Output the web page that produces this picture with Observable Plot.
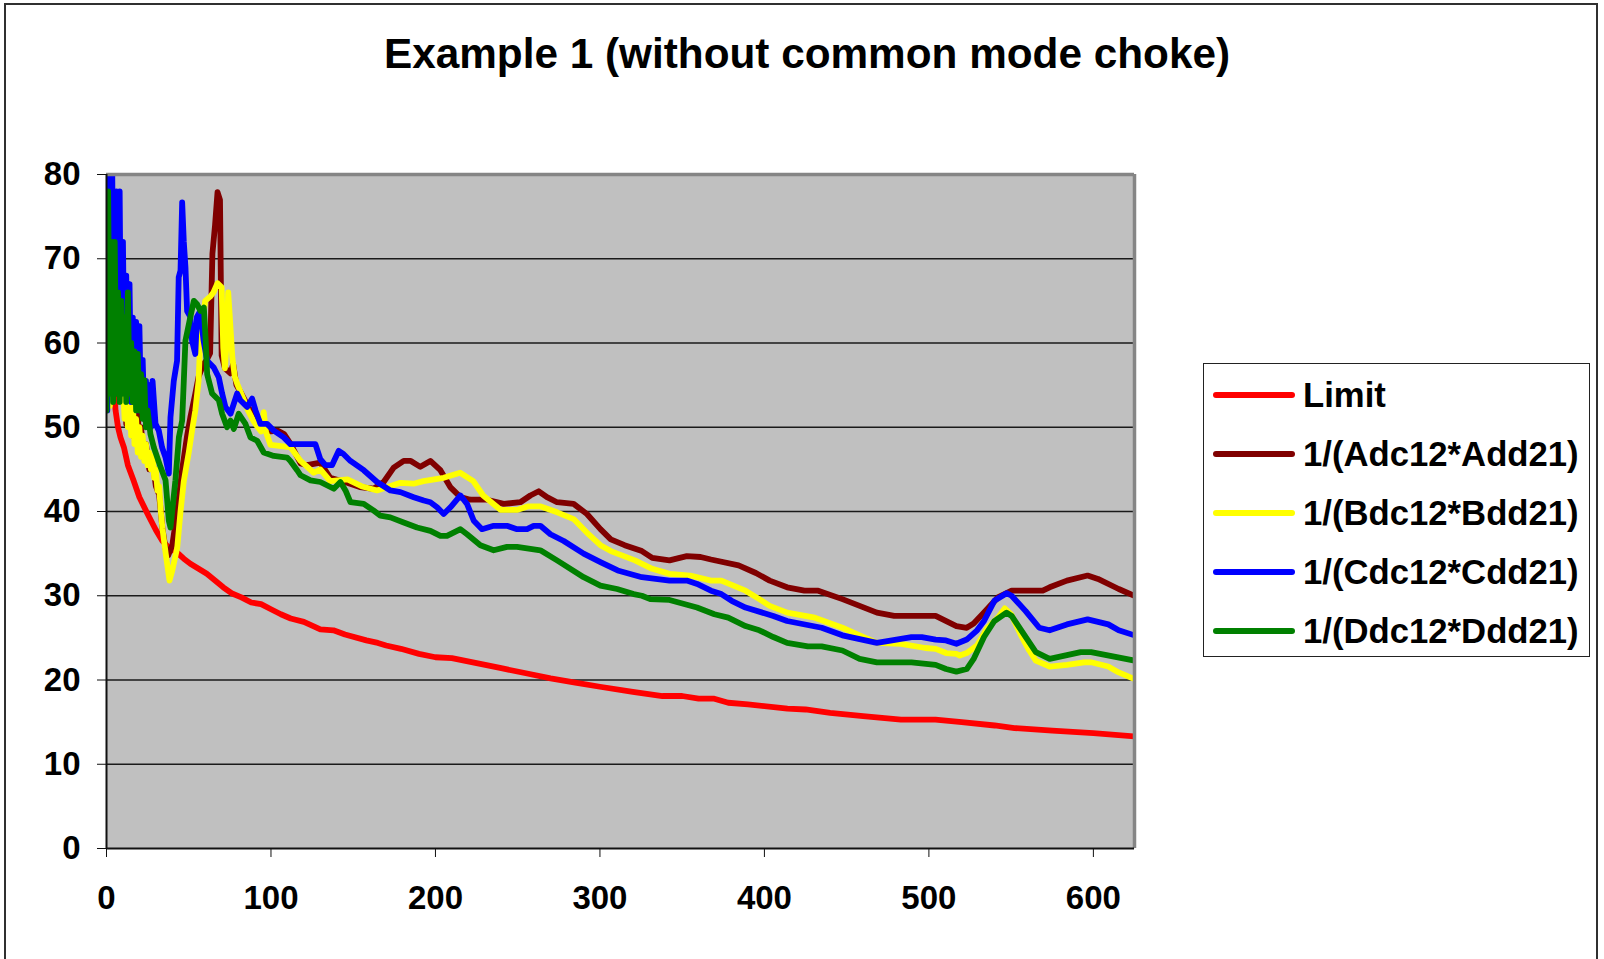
<!DOCTYPE html>
<html>
<head>
<meta charset="utf-8">
<script src="https://cdn.jsdelivr.net/npm/d3@7"></script>
<script src="https://cdn.jsdelivr.net/npm/@observablehq/plot@0.6"></script>
<style>
  html, body { margin: 0; padding: 0; background: #fff; overflow: hidden; }
  #fig { position: relative; width: 1604px; height: 959px; font-family: "Liberation Sans", Arial, sans-serif; }
  #chart { position: absolute; left: 0; top: 0; }
  #chart svg text { font-weight: bold; }
  #title { position: absolute; left: 5px; width: 1604px; top: 33px; text-align: center; font-size: 42.3px; line-height: 42px; font-weight: bold; color: #000; white-space: nowrap; z-index: 2; }
  #border { position: absolute; left: 4px; top: 3px; width: 1594px; height: 1000px; border: 2px solid #303030; box-sizing: border-box; z-index: 3; pointer-events: none; }
  #legend { position: absolute; left: 1203px; top: 363px; width: 387px; height: 294px; border: 1.5px solid #222; box-sizing: border-box; background: #fff; z-index: 2; }
  .row { position: absolute; left: 0; height: 59px; display: flex; align-items: center; }
  .sw { display: inline-block; width: 82px; height: 6px; border-radius: 3px; margin-left: 9px; }
  .lab { margin-left: 8px; font-size: 34.7px; font-weight: bold; color: #000; white-space: nowrap; }
</style>
</head>
<body>
<div id="fig">
  <div id="chart"></div>
  <div id="title"></div>
  <div id="legend"></div>
  <div id="border"></div>
</div>
<script>
const titleText = "Example 1 (without common mode choke)";
const seriesNames = ["Limit", "1/(Adc12*Add21)", "1/(Bdc12*Bdd21)", "1/(Cdc12*Cdd21)", "1/(Ddc12*Ddd21)"];
const seriesColors = ["#FF0000", "#800000", "#FFFF00", "#0000FF", "#008000"];
const xTicks = [0, 100, 200, 300, 400, 500, 600];
const yTicks = [0, 10, 20, 30, 40, 50, 60, 70, 80];

const limit = [[4,57],[5.5,52],[7,50],[8.5,48.8],[10.6,47.6],[13,45.5],[16.4,43.7],[20,41.7],[25,39.7],[30,37.8],[34,36.5],[38,35.7],[43,35.1],[47,34.4],[51,33.8],[56,33.2],[61,32.6],[66,31.8],[71,31],[76,30.3],[82,29.8],[88,29.2],[94,29],[100,28.4],[106,27.8],[112,27.3],[120,26.9],[130,26],[138,25.9],[145,25.4],[158,24.7],[165,24.4],[170,24.1],[179,23.7],[190,23.1],[200,22.7],[210,22.6],[225,22],[240,21.4],[255,20.8],[270,20.2],[285,19.7],[300,19.2],[320,18.6],[338,18.1],[350,18.1],[360,17.8],[369,17.8],[378,17.3],[390,17.1],[414,16.6],[425,16.5],[440,16.1],[460,15.7],[483,15.3],[504,15.3],[520,15.0],[540,14.6],[552,14.3],[575,14.0],[600,13.7],[625,13.3]];

const seriesA = [[0,55],[1,80],[2,56],[3,70],[4,55],[5,65],[6,54],[7,62],[8,55],[9,60],[10,53.6],[11,58],[12,50.4],[13,56],[14,50],[15,55],[16,49],[17,54],[18,48],[19,52],[20,47],[21,50],[22.7,46.4],[24,48],[26,45],[28,46],[30,43],[32,42],[34,38],[36,35.5],[37.5,34.8],[40,36],[43,40],[46,45],[49,49],[51,51.2],[54,54],[56,56],[59,57.5],[61,58],[63,58.8],[64.4,70.6],[66,74],[67.5,77.9],[69,77],[70,58.5],[72,57],[75.4,56.4],[77,57.5],[79,55],[82,54],[86,52.5],[90,51],[95,50],[100,49.5],[104,49.6],[108,49.2],[112,48],[118,45.7],[122,45.5],[130,45.8],[136,44],[145,43.5],[154,42.9],[162.5,42.7],[168.5,43.5],[174.6,45.2],[180.7,46],[185,46],[190.8,45.3],[196.9,46],[203,44.9],[209,42.9],[215.2,41.7],[221.2,41.4],[231.3,41.4],[241.5,40.9],[251.6,41.1],[257.7,41.9],[262.8,42.4],[267.8,41.7],[273.9,41.1],[284,40.9],[292.1,39.7],[300.3,37.9],[306.6,36.7],[315,36],[325.5,35.3],[331.8,34.5],[342.3,34.2],[352.8,34.7],[361.2,34.6],[367.5,34.3],[384.3,33.6],[394.8,32.7],[403.2,31.8],[413.8,31],[424.3,30.6],[432.7,30.6],[447.4,29.6],[468.4,28],[478.9,27.6],[504.1,27.6],[516.7,26.4],[523,26.2],[527.2,26.7],[533.5,28],[541.9,29.8],[550.3,30.6],[569.2,30.6],[573.4,31],[583.9,31.8],[596.5,32.4],[602.8,32],[615.4,30.8],[625,30]];

const seriesB = [[0,52],[1,55],[2,52.5],[3,56],[4,55],[5,54],[6,56.5],[7,54.5],[8,55.5],[9,54],[10,55],[11,51],[12,55],[13,50],[14,54],[15,49],[16,53],[17,48],[18,51],[19,47],[20,50],[21,46.5],[22,49],[23,46],[24,48],[25,45.5],[26,47],[27,45],[28,46.5],[29,44],[30,45],[31,42.5],[32,43],[33,40],[34,38],[36,35],[38.3,31.8],[40,33],[43,35.7],[45,40],[47,43.6],[50,47],[52,49.6],[54,52],[56,55.5],[57,60.3],[60,65],[63,65.5],[65,66],[67.5,67.1],[70,66.6],[71,59.4],[72,57],[73,60],[74,66],[75,63],[76.5,58.3],[78,56],[79.6,55.1],[83,53.5],[86,52],[89.5,50.7],[92,50],[94,49.5],[95.6,51.8],[97,49.4],[99.7,47.9],[105,47.8],[112,47.6],[118,46],[126,44.6],[130,45],[136,43.6],[146.5,43.8],[155,43],[164.5,42.5],[178.7,43.4],[186.7,43.3],[192.7,43.6],[205,44],[215,44.6],[223,43.6],[229,41.9],[239.5,40.2],[250,40.2],[256,40.6],[264,40.6],[274,39.9],[284,39.1],[292,37.5],[300.3,36],[306.6,35.3],[321.3,34.2],[331.8,33.2],[342.3,32.6],[354.9,32.4],[367.5,31.8],[373.8,31.8],[388.5,30.6],[396.9,29.6],[403.2,28.8],[413.8,28],[430.6,27.4],[447.4,26.2],[457.9,25.3],[468.4,24.4],[483.1,24.3],[497.8,23.8],[504.1,23.7],[510.4,23.2],[516.7,23.1],[518.8,22.9],[523,23.2],[529.3,24.1],[535.6,26.2],[541.9,27.4],[546.1,28.5],[550,27.8],[556,25.3],[561,23.5],[565,22.3],[573.4,21.6],[583.9,21.8],[594.4,22.1],[598.6,22.1],[609,21.6],[615.4,20.9],[625,20.1]];

const seriesC = [[0.5,52],[1.5,82],[2.5,58],[3.5,80],[4.5,56],[6,78],[7,55],[8,78],[9,54],[10,72],[11,55],[12,68],[13,54],[14,67],[15,53],[16,63],[17,54],[18,62.5],[19,52],[20,62],[21,52],[22,58],[23,51],[24,55.5],[25,50],[26,55],[27,50],[28,55.5],[29.8,50.4],[31.8,49.6],[33.8,47.6],[35.9,46.4],[37.9,44.5],[38.9,51.2],[40.9,55.5],[42.9,57.9],[43.9,67.8],[45,68.6],[46,76.7],[47,72],[48,69],[49,63.8],[51,63.1],[52,60.3],[54,58.7],[55,63.1],[57,63.8],[59,60.3],[61.2,57.9],[65.2,57.1],[68.3,55.9],[70.3,54],[72.3,52.4],[75.4,51.6],[79.4,54],[81.4,53.2],[85.5,52.4],[88.5,53.4],[90.6,52],[93.6,50.4],[97.6,50.4],[101.7,49.6],[107.8,48.8],[111.8,48],[127,48],[130,46.2],[133.1,45.5],[137.1,45.5],[141.2,47.2],[144.2,46.8],[148.3,46],[156.4,44.9],[164.5,43.5],[172.6,42.5],[178.7,42.3],[186.8,41.7],[192.9,41.3],[196.9,41.1],[201,40.5],[205,39.7],[209.1,40.5],[215.2,41.9],[219.2,40.9],[223.3,38.9],[228.3,37.9],[235.4,38.3],[243.5,38.3],[249.6,37.9],[255.7,37.9],[259.7,38.3],[263.8,38.3],[269.9,37.3],[278,36.5],[290.1,35],[300.3,34],[310.8,33],[325.5,32.2],[342.3,31.8],[352.8,31.8],[359.1,31.4],[367.5,30.6],[373.8,30.2],[380.1,29.4],[388.5,28.6],[405.4,27.6],[413.8,27],[434.8,26.2],[447.4,25.3],[468.4,24.4],[489.4,25.1],[495.7,25.1],[504.1,24.8],[510.4,24.7],[516.7,24.3],[523,24.8],[529.3,25.9],[533.5,27],[539.8,29.4],[547.2,30.3],[550.3,30],[558.7,28.2],[567.1,26.2],[573.4,25.9],[583.9,26.6],[596.5,27.2],[609.1,26.6],[615.4,25.9],[625,25.3]];

const seriesD = [[0,52],[1,78],[2,54],[3,72],[4,53],[5,72],[6,54],[7,66],[8,53],[9,65],[10,54],[11,63],[12,53],[13,66],[14,54],[15,60],[16,53],[17,59],[18,52],[19,58.7],[20,52],[21,56.3],[22,51],[23,55.6],[24,50],[25,52],[26.7,49.2],[28.8,47.6],[32.8,45.3],[35.9,43.7],[37.9,38.9],[38.9,38.1],[41.9,43.7],[44,48.8],[46,50.8],[47,55.5],[48,60.3],[51,63.1],[53.1,65],[55.1,64.6],[57.1,63.8],[59.2,64.2],[60.2,60.7],[61.2,56.3],[64.2,54],[68.3,53.2],[70.3,51.6],[73.3,50],[75.4,50.8],[77.4,49.8],[80.4,51.6],[84.5,50.4],[87.5,48.8],[91.6,48.4],[95.6,47],[101.7,46.6],[109.8,46.4],[111.8,46],[115.9,44.9],[118,44.3],[124,43.7],[130,43.5],[138.2,42.7],[142.2,43.5],[145.3,42.5],[148.3,41.1],[156.4,40.9],[162.5,40.1],[166.5,39.5],[172.6,39.3],[180.7,38.7],[188.8,38.1],[196.9,37.7],[203,37.1],[207,37.1],[213.1,37.7],[215.2,37.9],[219.2,37.3],[227.3,36],[235.4,35.4],[243.5,35.8],[249.6,35.8],[263.8,35.4],[273.9,34.2],[290.1,32.2],[300.3,31.2],[310.4,30.8],[320.5,30.2],[325.5,30.0],[330.6,29.6],[342.3,29.5],[359,28.6],[369.6,27.8],[378,27.4],[388.5,26.4],[396.9,25.9],[405.4,25.1],[413.8,24.4],[426.4,24],[434.8,24],[447.4,23.5],[457.9,22.5],[468.4,22.1],[489.4,22.1],[504.1,21.8],[510.4,21.3],[516.7,21],[523,21.3],[527.2,22.5],[533.5,25.1],[539.8,27],[547.2,28.0],[550.3,27.6],[565,23.3],[573.4,22.5],[592.3,23.3],[598.6,23.3],[625,22.3]];

const allSeries = [limit, seriesA, seriesB, seriesC, seriesD];

const lineMarks = allSeries.map((s, i) => Plot.line(s, {
  x: d => d[0], y: d => d[1], stroke: seriesColors[i], strokeWidth: 5.8,
  strokeLinejoin: "round", strokeLinecap: "round", clip: true
}));

const chart = Plot.plot({
  width: 1604,
  height: 959,
  marginLeft: 106,
  marginRight: 470,
  marginTop: 174,
  marginBottom: 111,
  style: { fontFamily: "'Liberation Sans', Arial, sans-serif", fontSize: "33px", fontWeight: "bold", background: "transparent", overflow: "visible" },
  x: { domain: [0, 625], label: null },
  y: { domain: [0, 80], label: null },
  marks: [
    Plot.frame({ fill: "#C0C0C0", stroke: null }),
    Plot.ruleY(yTicks.filter(v => v > 0 && v < 80), { stroke: "#1a1a1a", strokeWidth: 1.5 }),
    ...lineMarks,
    Plot.ruleY([80], { stroke: "#858585", strokeWidth: 3.5 }),
    Plot.ruleX([625], { stroke: "#858585", strokeWidth: 3.5 }),
    Plot.ruleX([0], { stroke: "#111", strokeWidth: 2 }),
    Plot.ruleY([0], { stroke: "#111", strokeWidth: 2 }),
    Plot.axisY({ ticks: yTicks, tickSize: 9, tickPadding: 17, fontSize: 33, fontWeight: "bold", stroke: "#111", label: null }),
    Plot.axisX({ ticks: xTicks, tickSize: 9, tickPadding: 28, fontSize: 33, fontWeight: "bold", stroke: "#111", label: null })
  ]
});
document.getElementById("chart").appendChild(chart);

document.getElementById("title").textContent = titleText;

const legend = document.getElementById("legend");
const rowCenters = [31, 90, 149, 208, 267];
seriesNames.forEach((name, i) => {
  const row = document.createElement("div");
  row.className = "row";
  row.style.top = (rowCenters[i] - 29.5) + "px";
  const sw = document.createElement("span");
  sw.className = "sw";
  sw.style.background = seriesColors[i];
  const lab = document.createElement("span");
  lab.className = "lab";
  lab.textContent = name;
  row.appendChild(sw);
  row.appendChild(lab);
  legend.appendChild(row);
});
</script>
</body>
</html>
